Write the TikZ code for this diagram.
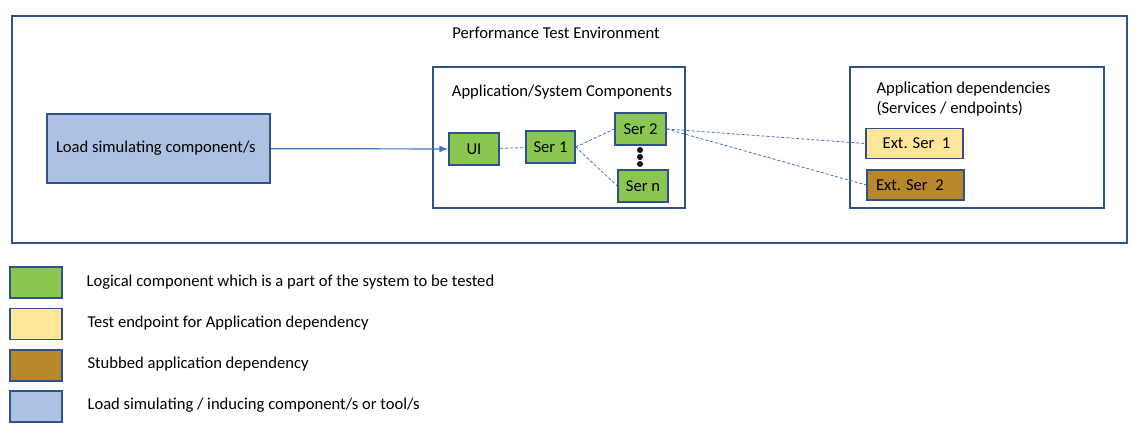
\documentclass[tikz,border=0pt]{standalone}
\usepackage{fontspec}
\setmainfont{Carlito}
\usetikzlibrary{arrows.meta}
\definecolor{edgeblue}{HTML}{2F528F}
\definecolor{linkblue}{HTML}{4472C4}
\definecolor{compgreen}{HTML}{8BC750}
\definecolor{endyellow}{HTML}{FFE699}
\definecolor{stubbrown}{HTML}{B8862B}
\definecolor{loadblue}{HTML}{ADC1E2}
\tikzstyle{frame}=[draw=edgeblue,line width=1.5pt,inner sep=0pt]
\tikzstyle{comp}=[frame,fill=compgreen,minimum width=50pt,minimum height=32pt]
\tikzstyle{ext}=[frame,minimum width=97pt,minimum height=30pt]
\tikzstyle{legend}=[frame,minimum width=52pt,minimum height=31pt]
\tikzstyle{link}=[linkblue,densely dashed,line width=0.8pt]
\begin{document}
\begin{tikzpicture}[x=1pt,y=-1pt,font=\fontsize{16.6}{20}\selectfont]
    \useasboundingbox (0,0) rectangle (1145,433);
    \node (env)[frame,minimum width=1115pt,minimum height=227pt] at (569.5,129.5) {};
    \node (envtitle) at (556,33) {Performance Test Environment};
    \node (load)[frame,fill=loadblue,minimum width=223pt,minimum height=69pt,text width=205pt,align=flush left] at (158.5,148.5) {Load simulating component/s};
    \node (apps)[frame,minimum width=252pt,minimum height=141pt] at (559,137.5) {};
    \node (appstitle) at (562,92) {Application/System Components};
    \node (ui)[comp] at (474,149) {UI};
    \node (ser1)[comp,minimum width=49pt] at (550.5,147) {Ser 1};
    \node (ser2)[comp,minimum width=51pt] at (640.5,129) {Ser 2};
    \node (sern)[comp] at (643,186) {Ser n};
    \node (deps)[frame,minimum width=254pt,minimum height=141pt] at (977,137.5) {};
    \node (depstitle)[anchor=north west,align=left] at (873,78) {Application dependencies\\(Services / endpoints)};
    \node (ext1)[ext,fill=endyellow] at (914.5,143.5) {\hspace*{4pt}Ext. Ser~~1};
    \node (ext2)[ext,fill=stubbrown,text width=79pt,align=flush left] at (915.5,185) {Ext. Ser~~2};
    \foreach \y in {150,157,164}
        \fill (640,\y) circle (3pt);
    \draw[linkblue,line width=1.2pt,-{Latex[length=9pt,width=7pt]}] (load) -- (ui);
    \draw[link] (ui) -- (ser1);
    \draw[link] (ser1.east) -- (ser2.west);
    \draw[link] (ser1.east) -- (sern.west);
    \draw[link] (ser2.east) -- (ext1.west);
    \draw[link] (ser2.east) -- (ext2.west);
    % legend
    \node (lg1)[legend,fill=compgreen] at (36,282.5) {};
    \node (lg2)[legend,fill=endyellow] at (36,324) {};
    \node (lg3)[legend,fill=stubbrown] at (36,365.5) {};
    \node (lg4)[legend,fill=loadblue] at (36,406.5) {};
    \node (lt1)[anchor=west] at (83,282.5) {Logical component which is a part of the system to be tested};
    \node (lt2)[anchor=west] at (84,323) {Test endpoint for Application dependency};
    \node (lt3)[anchor=west] at (84,364) {Stubbed application dependency};
    \node (lt4)[anchor=west] at (84,405) {Load simulating / inducing component/s or tool/s};
\end{tikzpicture}
\end{document}
